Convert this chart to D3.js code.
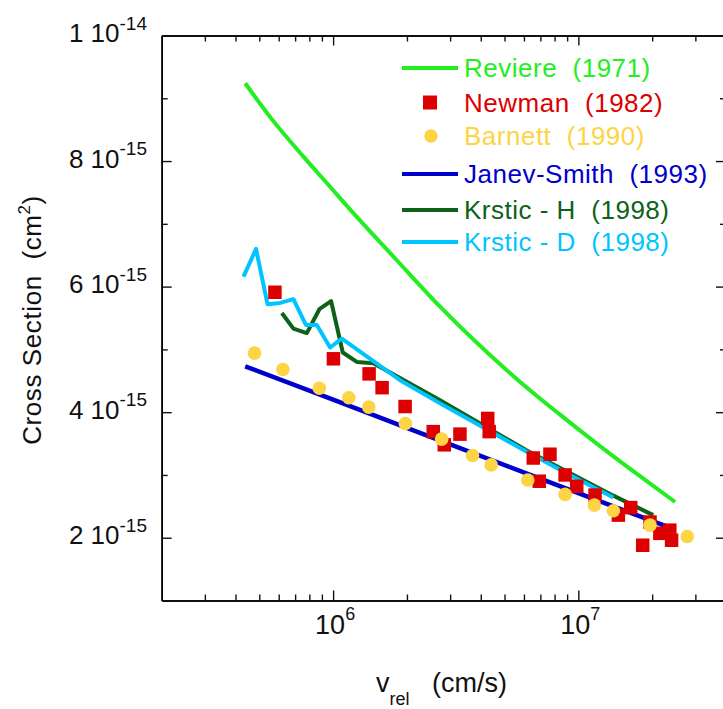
<!DOCTYPE html>
<html lang="en">
<head>
  <meta charset="UTF-8">
  <title>Cross Section vs v_rel</title>
  <script src="https://d3js.org/d3.v7.min.js"></script>
  <style>
    body { margin: 0; background: #fff; font-family: "Liberation Sans", Arial, sans-serif; }
    svg { display: block; }
    text { white-space: pre; }
  </style>
</head>
<body>
  <div id="chart"></div>

  <script>
    // curves: [v (cm/s), cross section (cm^2)]
    const reviere = [
      [4.38e5, 9.24e-15], [5.54e5, 8.70e-15], [7.57e5, 8.07e-15], [9.72e5, 7.59e-15],
      [1.249e6, 7.11e-15], [1.818e6, 6.42e-15], [2.73e6, 5.68e-15], [5.68e6, 4.51e-15],
      [8.42e6, 3.96e-15], [1.225e7, 3.46e-15], [1.784e7, 2.98e-15], [2.48e7, 2.57e-15]
    ];
    const janevSmith = [
      [4.38e5, 4.73e-15], [1e6, 4.20e-15], [2.125e6, 3.71e-15], [1e7, 2.71e-15], [2.29e7, 2.18e-15]
    ];
    const krsticH = [
      [6.18e5, 5.58e-15], [6.89e5, 5.33e-15], [7.81e5, 5.26e-15], [8.79e5, 5.64e-15],
      [9.81e5, 5.77e-15], [1.095e6, 4.95e-15], [1.249e6, 4.80e-15], [1.46e6, 4.78e-15],
      [2.73e6, 4.19e-15], [6.16e6, 3.39e-15], [1.389e7, 2.67e-15], [2.02e7, 2.36e-15]
    ];
    const krsticD = [
      [4.31e5, 6.16e-15], [4.85e5, 6.60e-15], [5.40e5, 5.72e-15], [6.08e5, 5.74e-15],
      [6.89e5, 5.80e-15], [7.74e5, 5.39e-15], [8.58e5, 5.39e-15], [9.72e5, 5.03e-15],
      [1.085e6, 5.17e-15], [1.875e6, 4.51e-15], [2.73e6, 4.14e-15], [6.16e6, 3.37e-15],
      [9.52e6, 2.97e-15], [1.389e7, 2.64e-15]
    ];
    // measured points
    const newman = [
      [5.79e5, 5.91e-15], [1.003e6, 4.85e-15], [1.402e6, 4.61e-15], [1.584e6, 4.39e-15],
      [1.966e6, 4.09e-15], [2.56e6, 3.69e-15], [2.84e6, 3.48e-15], [3.29e6, 3.65e-15],
      [4.27e6, 3.90e-15], [4.33e6, 3.69e-15], [6.55e6, 3.27e-15], [6.93e6, 2.90e-15],
      [7.66e6, 3.33e-15], [8.83e6, 3.00e-15], [9.85e6, 2.82e-15], [1.17e7, 2.68e-15],
      [1.456e7, 2.36e-15], [1.635e7, 2.48e-15], [1.83e7, 1.88e-15], [1.96e7, 2.25e-15],
      [2.15e7, 2.07e-15], [2.36e7, 2.12e-15], [2.40e7, 1.96e-15]
    ];
    const barnett = [
      [4.78e5, 4.94e-15], [6.24e5, 4.68e-15], [8.79e5, 4.38e-15], [1.159e6, 4.23e-15],
      [1.398e6, 4.08e-15], [1.97e6, 3.82e-15], [2.77e6, 3.57e-15], [3.70e6, 3.31e-15],
      [4.41e6, 3.16e-15], [6.22e6, 2.92e-15], [8.83e6, 2.69e-15], [1.162e7, 2.52e-15],
      [1.389e7, 2.43e-15], [1.96e7, 2.20e-15], [2.78e7, 2.02e-15]
    ];

    const xMajor = [1e6, 1e7];
    const xMinor = [3e5, 4e5, 5e5, 6e5, 7e5, 8e5, 9e5, 2e6, 3e6, 4e6, 5e6, 6e6, 7e6, 8e6, 9e6, 2e7, 3e7];
    const xTickLabels = [["10", "6"], ["10", "7"]];
    const yMajor = [2e-15, 4e-15, 6e-15, 8e-15, 1e-14];
    const yMinor = [3e-15, 5e-15, 7e-15, 9e-15];
    const yTickLabels = [["2 10", "-15"], ["4 10", "-15"], ["6 10", "-15"], ["8 10", "-15"], ["1 10", "-14"]];

    const legendItems = [
      { label: "Reviere  (1971)", color: "#22ee22", type: "line" },
      { label: "Newman  (1982)", color: "#dd0000", type: "square" },
      { label: "Barnett  (1990)", color: "#fdd444", type: "circle" },
      { label: "Janev-Smith  (1993)", color: "#0000cc", type: "line" },
      { label: "Krstic - H  (1998)", color: "#0d6118", type: "line" },
      { label: "Krstic - D  (1998)", color: "#00c4ff", type: "line" }
    ];
    const legendRows = [68, 102.5, 136, 174, 210, 242];

    const width = 723, height = 709;
    const plotL = 161.7, plotR = 726, plotT = 35.5, plotB = 600.5;

    const svg = d3.select("#chart").append("svg")
      .attr("width", width).attr("height", height);

    const x = d3.scaleLog().domain([2e5, 4e7]).range([plotL, plotR]);
    const y = d3.scaleLinear().domain([1e-15, 1e-14]).range([plotB, plotT]);

    function axisStyle(g) {
      g.select(".domain").attr("stroke", "#000").attr("stroke-width", 1.6);
      g.selectAll(".tick line").attr("stroke", "#111").attr("stroke-width", 1.4);
      g.selectAll(".tick text").remove();
    }

    // frame + inward ticks
    svg.append("g").attr("transform", `translate(0,${plotB})`)
      .call(d3.axisBottom(x).tickValues(xMajor).tickSize(-10).tickSizeOuter(0)).call(axisStyle);
    svg.append("g").attr("transform", `translate(0,${plotB})`)
      .call(d3.axisBottom(x).tickValues(xMinor).tickSize(-6).tickSizeOuter(0)).call(axisStyle);
    svg.append("g").attr("transform", `translate(0,${plotT})`)
      .call(d3.axisTop(x).tickValues(xMajor).tickSize(-10).tickSizeOuter(0)).call(axisStyle);
    svg.append("g").attr("transform", `translate(0,${plotT})`)
      .call(d3.axisTop(x).tickValues(xMinor).tickSize(-6).tickSizeOuter(0)).call(axisStyle);
    svg.append("g").attr("transform", `translate(${plotL},0)`)
      .call(d3.axisLeft(y).tickValues(yMajor).tickSize(-10).tickSizeOuter(0)).call(axisStyle);
    svg.append("g").attr("transform", `translate(${plotL},0)`)
      .call(d3.axisLeft(y).tickValues(yMinor).tickSize(-6).tickSizeOuter(0)).call(axisStyle);
    svg.append("g").attr("transform", `translate(${plotR},0)`)
      .call(d3.axisRight(y).tickValues(yMajor).tickSize(-10).tickSizeOuter(0)).call(axisStyle);
    svg.append("g").attr("transform", `translate(${plotR},0)`)
      .call(d3.axisRight(y).tickValues(yMinor).tickSize(-6).tickSizeOuter(0)).call(axisStyle);

    // tick labels
    const xt = svg.selectAll(".xlab").data(xMajor).enter().append("text")
      .attr("x", d => x(d) + 2).attr("y", 634)
      .attr("text-anchor", "middle").attr("font-size", 27).attr("fill", "#111");
    xt.append("tspan").text((d, i) => xTickLabels[i][0]);
    xt.append("tspan").attr("dy", -14).attr("font-size", 18).text((d, i) => xTickLabels[i][1]);

    const yt = svg.selectAll(".ylab").data(yMajor).enter().append("text")
      .attr("x", 147).attr("y", d => y(d) + 6.5)
      .attr("text-anchor", "end").attr("font-size", 26).attr("fill", "#111");
    yt.append("tspan").text((d, i) => yTickLabels[i][0]);
    yt.append("tspan").attr("dy", -12.5).attr("font-size", 19).text((d, i) => yTickLabels[i][1]);

    // axis titles
    const xTitle = svg.append("text").attr("x", 376).attr("y", 692)
      .attr("font-size", 27).attr("fill", "#111");
    xTitle.append("tspan").text("v");
    xTitle.append("tspan").attr("dy", 13).attr("font-size", 18).text("rel");
    xTitle.append("tspan").attr("dy", -13).text("   (cm/s)");

    const yTitle = svg.append("text")
      .attr("transform", `translate(41,${(plotT + plotB) / 2 + 2}) rotate(-90)`)
      .attr("text-anchor", "middle").attr("font-size", 26).attr("letter-spacing", 0.6)
      .attr("fill", "#111");
    yTitle.append("tspan").text("Cross Section  (cm");
    yTitle.append("tspan").attr("dy", -11).attr("font-size", 17).text("2");
    yTitle.append("tspan").attr("dy", 11).text(")");

    // curves
    const line = d3.line().x(d => x(d[0])).y(d => y(d[1]));
    const smooth = d3.line().x(d => x(d[0])).y(d => y(d[1])).curve(d3.curveMonotoneX);
    const curves = [
      [reviere, legendItems[0].color, 4, smooth],
      [janevSmith, legendItems[3].color, 4.5, line],
      [krsticH, legendItems[4].color, 4, line],
      [krsticD, legendItems[5].color, 4, line]
    ];
    svg.selectAll(".curve").data(curves).enter().append("path")
      .attr("d", d => d[3](d[0]))
      .attr("fill", "none")
      .attr("stroke", d => d[1])
      .attr("stroke-width", d => d[2])
      .attr("stroke-linejoin", "round");

    // markers
    const sq = 13.5;
    svg.selectAll(".newman").data(newman).enter().append("rect")
      .attr("x", d => x(d[0]) - sq / 2).attr("y", d => y(d[1]) - sq / 2)
      .attr("width", sq).attr("height", sq)
      .attr("fill", legendItems[1].color);
    svg.selectAll(".barnett").data(barnett).enter().append("circle")
      .attr("cx", d => x(d[0])).attr("cy", d => y(d[1])).attr("r", 6.8)
      .attr("fill", legendItems[2].color);

    // legend
    const lg = svg.append("g");
    legendItems.forEach((item, i) => {
      const cy = legendRows[i];
      if (item.type === "line") {
        lg.append("line").attr("x1", 402).attr("x2", 458).attr("y1", cy).attr("y2", cy)
          .attr("stroke", item.color).attr("stroke-width", 4);
      } else if (item.type === "square") {
        lg.append("rect").attr("x", 423).attr("y", cy - 7).attr("width", 14).attr("height", 14)
          .attr("fill", item.color);
      } else {
        lg.append("circle").attr("cx", 431).attr("cy", cy).attr("r", 6.7).attr("fill", item.color);
      }
      lg.append("text").attr("x", 464).attr("y", cy + 9)
        .attr("font-size", 26).attr("letter-spacing", 0.5)
        .attr("fill", item.color).text(item.label);
    });
  </script>
</body>
</html>
